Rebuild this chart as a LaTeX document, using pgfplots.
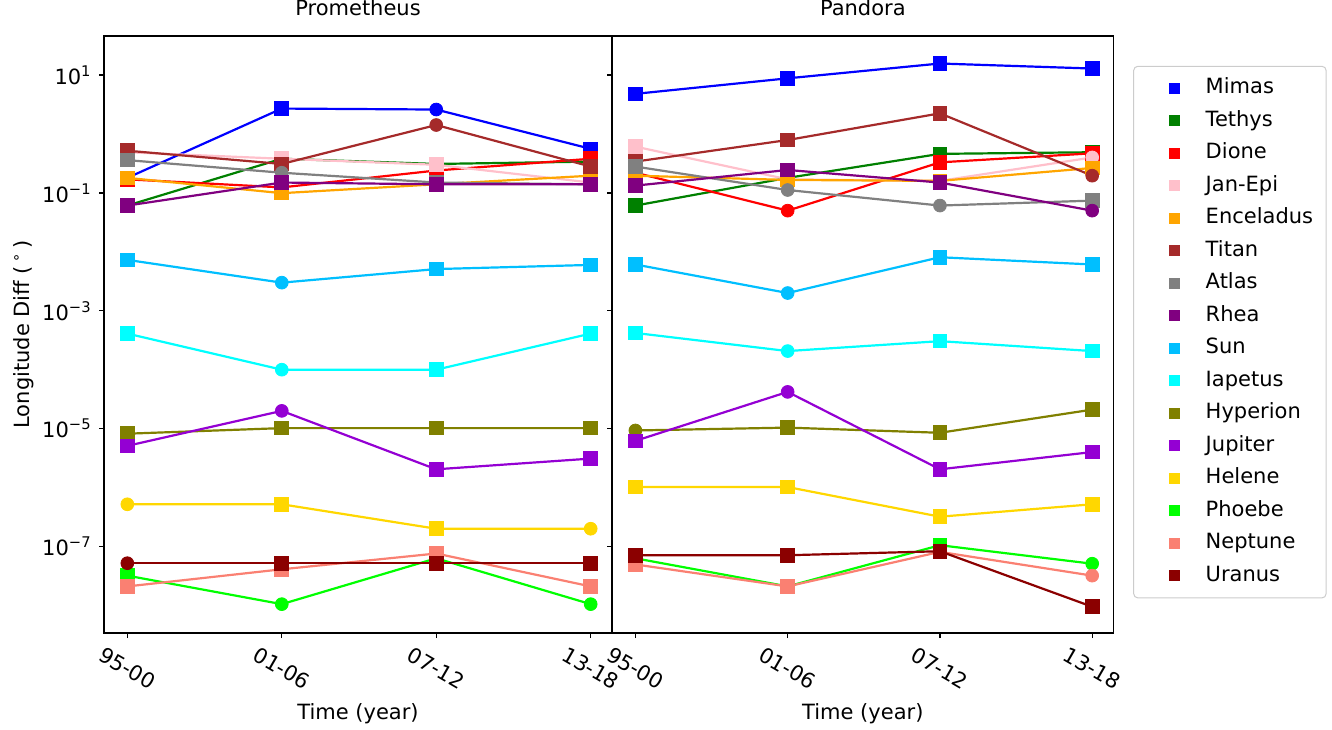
\documentclass[border=0pt]{standalone}
\usepackage{pgfplots}
\pgfplotsset{compat=1.18}
\usepackage{fontspec}
\setmainfont{DejaVu Sans}
\definecolor{cMimas}{RGB}{0,0,255}
\definecolor{cTethys}{RGB}{0,128,0}
\definecolor{cDione}{RGB}{255,0,0}
\definecolor{cJanEpi}{RGB}{255,192,203}
\definecolor{cEnceladus}{RGB}{255,165,0}
\definecolor{cTitan}{RGB}{165,42,42}
\definecolor{cAtlas}{RGB}{128,128,128}
\definecolor{cRhea}{RGB}{128,0,128}
\definecolor{cSun}{RGB}{0,191,255}
\definecolor{cIapetus}{RGB}{0,255,255}
\definecolor{cHyperion}{RGB}{128,128,0}
\definecolor{cJupiter}{RGB}{148,0,211}
\definecolor{cHelene}{RGB}{255,215,0}
\definecolor{cPhoebe}{RGB}{0,255,0}
\definecolor{cNeptune}{RGB}{250,128,114}
\definecolor{cUranus}{RGB}{139,0,0}
% legend square with invisible room on its left
\pgfdeclareplotmark{legsq}{%
  \pgfpathmoveto{\pgfqpoint{-14pt}{0pt}}\pgfusepath{}%
  \pgfpathrectangle{\pgfqpoint{-2.75pt}{-2.75pt}}{\pgfqpoint{5.5pt}{5.5pt}}\pgfusepathqfill}
\pgfplotsset{
  myser/.style={color=#1, line width=1.1pt, mark=square*, mark size=3.1pt, mark options={solid}, forget plot},
  mycir/.style={color=#1, only marks, mark=*, mark size=3.2pt, forget plot},
  myleg/.style={color=#1, only marks, mark=legsq, mark size=2.75pt},
  mypanel/.style={scale only axis, height=298.5pt, ymin=3.4e-9, ymax=46,
    xmin=-0.151, xmax=3.138, xtick={0,1,2,3}, xticklabels={95-00,01-06,07-12,13-18},
    ytick={1e1,1e-1,1e-3,1e-5,1e-7}, yminorticks=false, tick align=outside,
    xtick pos=bottom, ytick pos=left, major tick length=2.5pt,
    tick style={black, line width=0.6pt}, axis line style={line width=0.7pt},
    xticklabel style={yshift=-15pt, rotate=-30, anchor=center},
    xlabel={Time (year)},
    xlabel style={at={([yshift=-43pt]axis description cs:0.5,0)}, anchor=base},
    title style={at={([yshift=4.2pt]axis description cs:0.5,1)}, anchor=base},
  },
}
\newcommand{\ser}[3]{\addplot[myser=#1, mark indices={#2}] table[row sep=\\]{x y\\#3};}
\newcommand{\cir}[2]{\addplot[mycir=#1] table[row sep=\\]{x y\\#2};}
\begin{document}
\fontsize{10.5}{12.6}\selectfont
\begin{tikzpicture}
\useasboundingbox (0,0) rectangle (666pt,364.5pt);
\begin{semilogyaxis}[mypanel, at={(52pt,48pt)}, anchor=south west, width=254pt, title={Prometheus},
  yticklabels={10\textsuperscript{1},10\textsuperscript{−1},10\textsuperscript{−3},10\textsuperscript{−5},10\textsuperscript{−7}},
  ylabel={Longitude Diff (\,\textsuperscript{∘}\,)},
  ylabel style={at={([xshift=-37.5pt]axis description cs:0,0.5)}, anchor=base}]
\ser{cMimas}{1,2,4}{0 0.18\\1 2.7\\2 2.6\\3 0.56\\}
\cir{cMimas}{2 2.6\\}
\ser{cTethys}{1,2,3,4}{0 0.061\\1 0.38\\2 0.31\\3 0.34\\}
\ser{cDione}{1,2,3,4}{0 0.17\\1 0.124\\2 0.24\\3 0.38\\}
\ser{cJanEpi}{1,2,3,4}{0 0.49\\1 0.38\\2 0.30\\3 0.15\\}
\ser{cEnceladus}{1,2,3,4}{0 0.18\\1 0.099\\2 0.14\\3 0.196\\}
\ser{cTitan}{1,2,4}{0 0.52\\1 0.31\\2 1.42\\3 0.28\\}
\cir{cTitan}{2 1.42\\}
\ser{cAtlas}{1,3,4}{0 0.36\\1 0.22\\2 0.15\\3 0.14\\}
\cir{cAtlas}{1 0.22\\}
\ser{cRhea}{1,2,3,4}{0 0.061\\1 0.15\\2 0.14\\3 0.14\\}
\ser{cSun}{1,3,4}{0 0.0073\\1 0.003\\2 0.0051\\3 0.006\\}
\cir{cSun}{1 0.003\\}
\ser{cIapetus}{1,3,4}{0 4.1e-4\\1 1.0e-4\\2 1.0e-4\\3 4.1e-4\\}
\cir{cIapetus}{1 1.0e-4\\}
\ser{cHyperion}{1,2,3,4}{0 8.2e-6\\1 1.02e-5\\2 1.02e-5\\3 1.02e-5\\}
\ser{cJupiter}{1,3,4}{0 5.1e-6\\1 2.0e-5\\2 2.04e-6\\3 3.1e-6\\}
\cir{cJupiter}{1 2.0e-5\\}
\ser{cHelene}{2,3}{0 5.2e-7\\1 5.2e-7\\2 2.0e-7\\3 2.0e-7\\}
\cir{cHelene}{0 5.2e-7\\3 2.0e-7\\}
\ser{cPhoebe}{1,3}{0 3.2e-8\\1 1.05e-8\\2 6.3e-8\\3 1.05e-8\\}
\cir{cPhoebe}{1 1.05e-8\\3 1.05e-8\\}
\ser{cNeptune}{1,2,3,4}{0 2.1e-8\\1 4.1e-8\\2 7.6e-8\\3 2.1e-8\\}
\ser{cUranus}{2,3,4}{0 5.2e-8\\1 5.2e-8\\2 5.2e-8\\3 5.2e-8\\}
\cir{cUranus}{0 5.2e-8\\}
\end{semilogyaxis}
\begin{semilogyaxis}[mypanel, at={(306.2pt,48pt)}, anchor=south west, width=250.4pt, title={Pandora},
  yticklabels={},
  legend style={at={(1.04,0.95)}, anchor=north west, draw=black!20, line width=0.5pt,
    rounded corners=2pt, inner xsep=6.5pt, inner ysep=5.75pt, row sep=5.75pt,
    nodes={inner sep=0pt, text height=8pt, text depth=2.5pt},
    /tikz/every odd column/.append style={column sep=12.75pt}},
  legend cell align=left,
  legend entries={Mimas,Tethys,Dione,Jan-Epi,Enceladus,Titan,Atlas,Rhea,Sun,Iapetus,Hyperion,Jupiter,Helene,Phoebe,Neptune,Uranus}]
\addlegendimage{myleg=cMimas}
\addlegendimage{myleg=cTethys}
\addlegendimage{myleg=cDione}
\addlegendimage{myleg=cJanEpi}
\addlegendimage{myleg=cEnceladus}
\addlegendimage{myleg=cTitan}
\addlegendimage{myleg=cAtlas}
\addlegendimage{myleg=cRhea}
\addlegendimage{myleg=cSun}
\addlegendimage{myleg=cIapetus}
\addlegendimage{myleg=cHyperion}
\addlegendimage{myleg=cJupiter}
\addlegendimage{myleg=cHelene}
\addlegendimage{myleg=cPhoebe}
\addlegendimage{myleg=cNeptune}
\addlegendimage{myleg=cUranus}
\ser{cMimas}{1,2,3,4}{0 4.8\\1 8.8\\2 15.7\\3 12.9\\}
\ser{cTethys}{1,2,3,4}{0 0.061\\1 0.18\\2 0.46\\3 0.49\\}
\ser{cDione}{1,3,4}{0 0.22\\1 0.05\\2 0.33\\3 0.47\\}
\cir{cDione}{1 0.05\\}
\ser{cJanEpi}{1,2,3}{0 0.61\\1 0.17\\2 0.16\\3 0.40\\}
\cir{cJanEpi}{3 0.40\\}
\ser{cEnceladus}{1,2,3,4}{0 0.196\\1 0.166\\2 0.16\\3 0.265\\}
\ser{cTitan}{1,2,3}{0 0.34\\1 0.79\\2 2.24\\3 0.196\\}
\cir{cTitan}{3 0.196\\}
\ser{cAtlas}{1,4}{0 0.28\\1 0.112\\2 0.061\\3 0.074\\}
\cir{cAtlas}{1 0.112\\2 0.061\\}
\ser{cRhea}{1,2,3}{0 0.133\\1 0.245\\2 0.15\\3 0.05\\}
\cir{cRhea}{3 0.05\\}
\ser{cSun}{1,3,4}{0 0.0061\\1 0.002\\2 0.0081\\3 0.0061\\}
\cir{cSun}{1 0.002\\}
\ser{cIapetus}{1,3,4}{0 4.2e-4\\1 2.07e-4\\2 3.05e-4\\3 2.07e-4\\}
\cir{cIapetus}{1 2.07e-4\\}
\ser{cHyperion}{2,3,4}{0 9.3e-6\\1 1.04e-5\\2 8.5e-6\\3 2.1e-5\\}
\cir{cHyperion}{0 9.3e-6\\}
\ser{cJupiter}{1,3,4}{0 6.2e-6\\1 4.2e-5\\2 2.04e-6\\3 4.0e-6\\}
\cir{cJupiter}{1 4.2e-5\\}
\ser{cHelene}{1,2,3,4}{0 1.02e-6\\1 1.02e-6\\2 3.2e-7\\3 5.2e-7\\}
\ser{cPhoebe}{1,2,3}{0 6.3e-8\\1 2.1e-8\\2 1.05e-7\\3 5.1e-8\\}
\cir{cPhoebe}{3 5.1e-8\\}
\ser{cNeptune}{1,2,3}{0 4.95e-8\\1 2.1e-8\\2 8.1e-8\\3 3.2e-8\\}
\cir{cNeptune}{3 3.2e-8\\}
\ser{cUranus}{1,2,3,4}{0 7.1e-8\\1 7.1e-8\\2 8.3e-8\\3 9.5e-9\\}
\end{semilogyaxis}
\end{tikzpicture}
\end{document}
